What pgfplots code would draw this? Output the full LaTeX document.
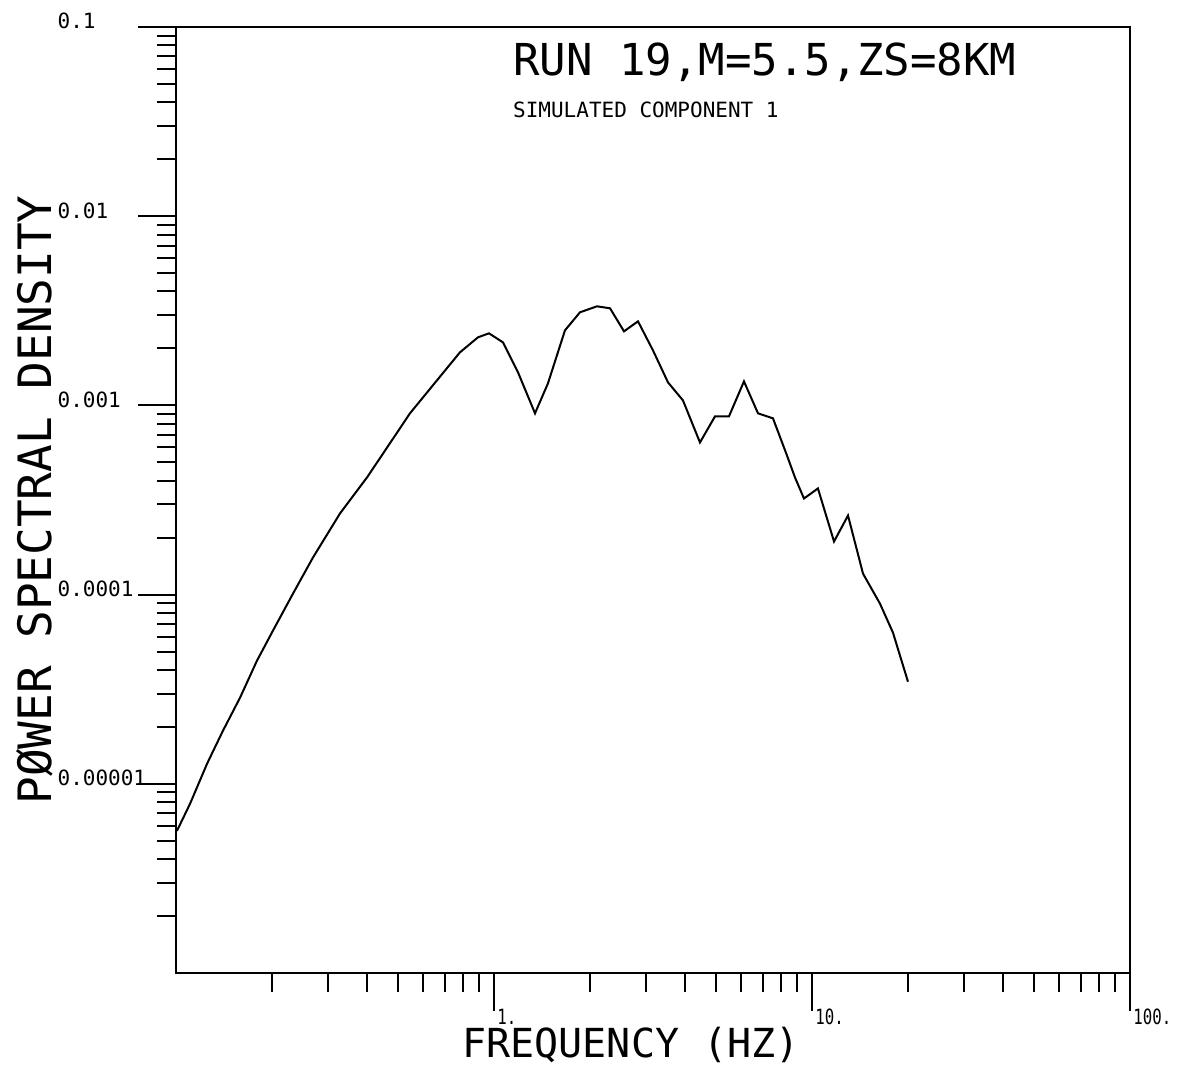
\documentclass[border=0pt]{standalone}
\usepackage{fontspec}
\setmainfont{DejaVu Sans Mono}
\usepackage{graphicx}
\usepackage{pgfplots}
\pgfplotsset{compat=1.18}

% spectrum (frequency in Hz, PSD)
\pgfplotstableread{
f      psd
0.1007 5.64e-6
0.1107 7.84e-6
0.1252 1.276e-5
0.1405 1.908e-5
0.1590 2.851e-5
0.1798 4.477e-5
0.2018 6.45e-5
0.2333 1.012e-4
0.2696 1.570e-4
0.3280 2.685e-4
0.3988 4.16e-4
0.5443 9.08e-4
0.6617 1.356e-3
0.7818 1.908e-3
0.8907 2.290e-3
0.9645 2.404e-3
1.067  2.154e-3
1.190  1.495e-3
1.346  9.08e-4
1.478  1.307e-3
1.672  2.493e-3
1.864  3.105e-3
2.108  3.34e-3
2.317  3.26e-3
2.564  2.463e-3
2.837  2.782e-3
3.162  1.954e-3
3.525  1.324e-3
3.929  1.063e-3
4.444  6.37e-4
4.955  8.75e-4
5.483  8.75e-4
6.112  1.339e-3
6.765  9.08e-4
7.541  8.54e-4
8.343  5.44e-4
8.842  4.16e-4
9.437  3.22e-4
10.44  3.64e-4
11.73  1.908e-4
12.98  2.618e-4
14.47  1.291e-4
16.36  8.96e-5
17.98  6.29e-5
20.04  3.464e-5
}\spectrum

\newcommand{\nar}[1]{\scalebox{0.75}[1]{#1}}

\begin{document}
\begin{tikzpicture}
\path[use as bounding box] (-88pt,-47.5pt) rectangle (504.5pt,486.5pt);
\begin{axis}[
    xmode=log, ymode=log,
    scale only axis,
    width=477pt, height=473pt,
    xmin=0.1, xmax=100,
    ymin=1e-6, ymax=0.1,
    axis line style={line width=1pt},
    tick style={line width=1pt, black},
    tick align=outside,
    xtick pos=bottom, ytick pos=left,
    major tick length=19pt,
    minor tick length=9.5pt,
    xtick={1,10,100},
    xticklabels={\nar{1.},\nar{10.},\nar{100.}},
    minor xtick={0.2,0.3,0.4,0.5,0.6,0.7,0.8,0.9,2,3,4,5,6,7,8,9,20,30,40,50,60,70,80,90},
    ytick={1e-5,1e-4,1e-3,1e-2,1e-1},
    yticklabels={0.00001,0.0001,0.001,0.01,0.1},
    minor ytick={2e-6,3e-6,4e-6,5e-6,6e-6,7e-6,8e-6,9e-6,
                 2e-5,3e-5,4e-5,5e-5,6e-5,7e-5,8e-5,9e-5,
                 2e-4,3e-4,4e-4,5e-4,6e-4,7e-4,8e-4,9e-4,
                 2e-3,3e-3,4e-3,5e-3,6e-3,7e-3,8e-3,9e-3,
                 2e-2,3e-2,4e-2,5e-2,6e-2,7e-2,8e-2,9e-2},
    xticklabel style={anchor=north west, inner sep=0pt, xshift=1.5pt, yshift=1pt,
        font=\fontsize{10.5}{12}\selectfont},
    yticklabel style={anchor=base west, inner sep=0pt, xshift=-40.5pt, yshift=-1pt,
        font=\fontsize{10.5}{12}\selectfont},
    xlabel={FREQUENCY  (HZ)},
    ylabel={PØWER SPECTRAL DENSITY},
    every axis x label/.style={at={(axis description cs:0.477,-0.076)}, anchor=center,
        font=\fontsize{20}{24}\selectfont},
    every axis y label/.style={at={(axis description cs:-0.148,0.5)}, rotate=90, anchor=center,
        font=\fontsize{23}{27}\selectfont},
]
\addplot[black, line width=1pt] table[x=f, y=psd] {\spectrum};
\node[anchor=west, inner sep=0pt, font=\fontsize{22}{26}\selectfont]
    at (axis description cs:0.353,0.963) {RUN 19,M=5.5,ZS=8KM};
\node[anchor=west, inner sep=0pt, font=\fontsize{10.5}{12}\selectfont]
    at (axis description cs:0.353,0.912) {SIMULATED COMPONENT 1};
\end{axis}
\end{tikzpicture}
\end{document}
